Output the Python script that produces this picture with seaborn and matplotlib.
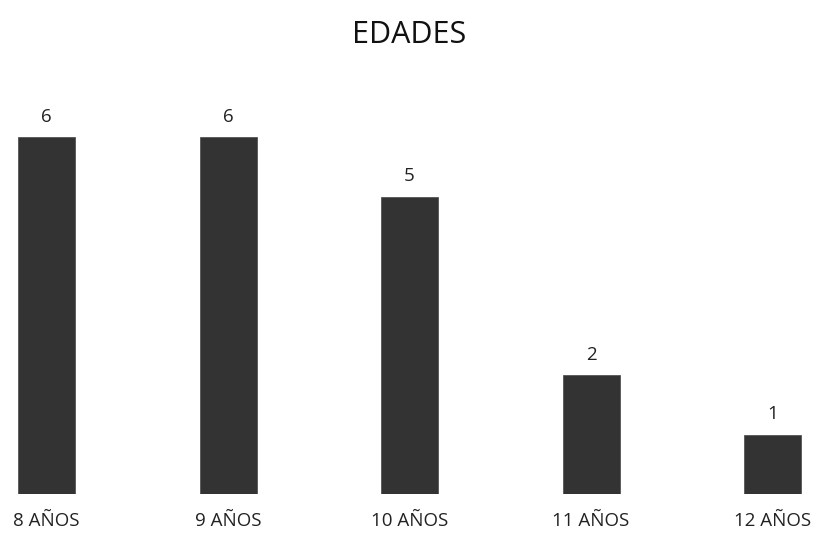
import matplotlib
matplotlib.use("Agg")
import matplotlib.pyplot as plt
import seaborn as sns
import pandas as pd

categories = ["8 AÑOS", "9 AÑOS", "10 AÑOS", "11 AÑOS", "12 AÑOS"]
values = [6, 6, 5, 2, 1]
title = "EDADES"

sns.set_theme(style="white")
plt.rcParams['font.family'] = ['Open Sans', 'DejaVu Sans']

df = pd.DataFrame({"edad": categories, "n": values})

fig = plt.figure(figsize=(8.18, 5.35), dpi=100)
ax = fig.add_axes([0.0, 0.0766, 1.0, 0.7785])
sns.barplot(data=df, x="edad", y="n", color="#333333", width=0.314,
            saturation=1, ax=ax)
for p in ax.patches:
    p.set_edgecolor("#555555")
    p.set_linewidth(0.6)
ax.bar_label(ax.containers[0], padding=8, fontsize=13.5, color="#222222")
ax.set_xlim(-0.256, 4.25)
ax.set_ylim(0, 7)
ax.set_xlabel("")
ax.set_ylabel("")
ax.set_yticks([])
ax.tick_params(axis="x", length=0, pad=13, labelsize=13.5, labelcolor="#222222")
for s in ax.spines.values():
    s.set_visible(False)
fig.text(0.5, 0.935, title, ha="center", va="center", fontsize=22, color="#111111")
fig.savefig("out.png", dpi=100, facecolor="white")
